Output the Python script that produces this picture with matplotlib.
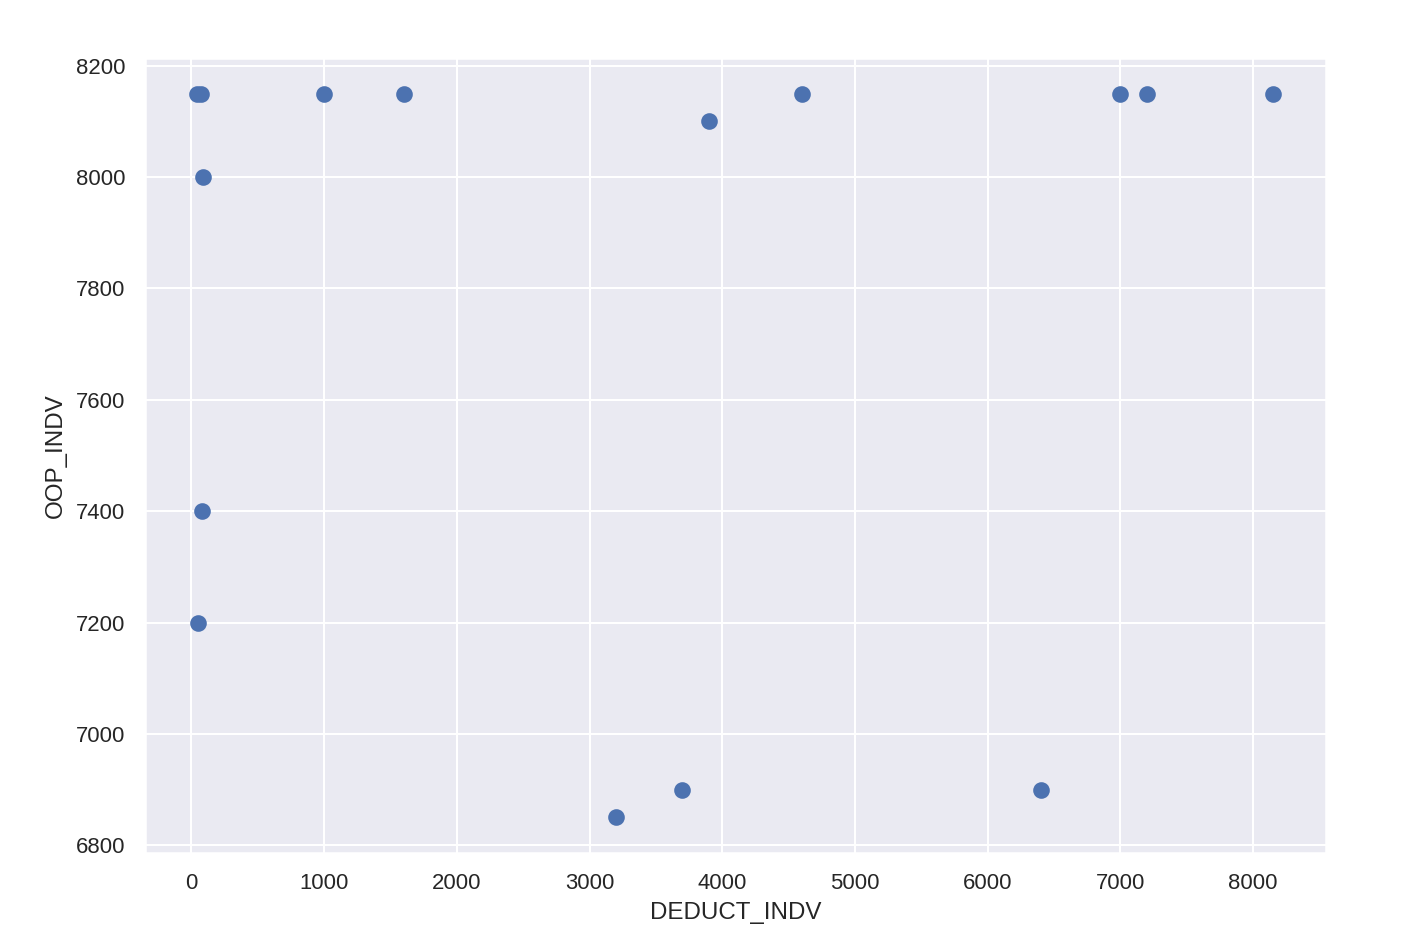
import numpy as np
import seaborn as sns
from matplotlib import pyplot as plt

# values
deduct_indv = [40, 70, 90, 80, 50, 1000, 1600, 3200, 3700, 3900, 4600, 6400, 7000, 7200, 8150]
oop_indv = [8150, 8150, 8000, 7400, 7200, 8150, 8150, 6850, 6900, 8100, 8150, 6900, 8150, 8150, 8150]

sns.set_theme()
plt.rcParams['font.family'] = ['Liberation Sans', 'DejaVu Sans']

fig = plt.figure(figsize=(9.48, 6.3067), dpi=150)
ax = fig.add_axes([145 / 1422, 1 - 853 / 946, 1181 / 1422, 795 / 946])

ax.scatter(deduct_indv, oop_indv, s=42, linewidths=1.5)
ax.set_xlim(-350, 8550)
ax.set_ylim(6786, 8214)
ax.set_xticks(np.arange(0, 9000, 1000))
ax.set_yticks(np.arange(6800, 8400, 200))
ax.tick_params(labelsize=10.6)
ax.set_xlabel('DEDUCT_INDV', fontsize=11.6)
ax.set_ylabel('OOP_INDV', fontsize=11.6)

plt.savefig('out.png', dpi=150)
plt.close()
